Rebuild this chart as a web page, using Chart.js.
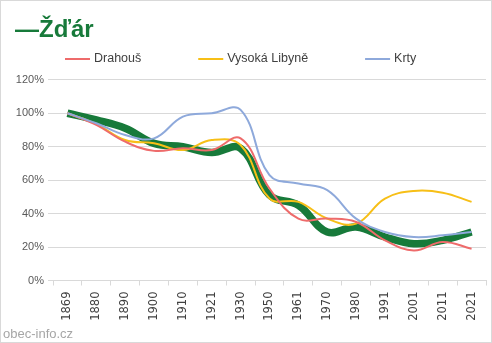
<!DOCTYPE html>
<html>
<head>
<meta charset="utf-8">
<script src="https://cdn.jsdelivr.net/npm/chart.js@4/dist/chart.umd.min.js"></script>
<style>
  html, body { margin: 0; padding: 0; background: #fff; }
  #box { width: 492px; height: 343px; position: relative; }
</style>
</head>
<body>
<div id="box"><canvas id="chart"></canvas></div>
<script>
// census years
var years = ["1869", "1880", "1890", "1900", "1910", "1921", "1930", "1950", "1961", "1970", "1980", "1991", "2001", "2011", "2021"];

// population relative to 1869, in percent
var zdar     = [100, 96, 91, 82, 80, 76.5, 79, 51, 45, 29, 32, 26, 22, 24, 29];
var drahous  = [100, 93, 83, 77.5, 79, 78, 85, 55, 37, 37, 35, 24, 18, 23, 19];
var vysoka   = [100, 93.5, 84, 82, 78, 84, 81, 49, 47, 37, 34, 49, 53.5, 52.5, 47];
var krty     = [100, 94, 87, 85, 98, 100, 102, 63, 58, 54, 37, 29, 26, 27, 29];

var yTicks = [0, 20, 40, 60, 80, 100, 120];

var GREEN = "#177a3a";

// own legend + watermark + frame
var extras = {
  id: "extras",
  afterDraw: function (chart) {
    var ctx = chart.ctx;
    ctx.save();

    // legend, skipping the main series (it is in the title)
    ctx.font = "12.5px 'Liberation Sans'";
    ctx.textBaseline = "middle";
    var x = 65, y = 59;
    chart.data.datasets.forEach(function (ds) {
      if (ds.label === "Žďár") return;
      ctx.fillStyle = ds.borderColor;
      ctx.fillRect(x, y - 1, 25, 2);
      ctx.fillStyle = "#404040";
      ctx.fillText(ds.label, x + 29, y);
      x += 29 + ctx.measureText(ds.label).width + 57;
    });

    // watermark
    ctx.font = "13px 'Liberation Sans'";
    ctx.fillStyle = "#a6a6a6";
    ctx.textBaseline = "alphabetic";
    ctx.fillText("obec-info.cz", 3, 338);

    // frame
    ctx.strokeStyle = "#d9d9d9";
    ctx.lineWidth = 1;
    ctx.strokeRect(0.5, 0.5, 491, 342);
    ctx.restore();
  }
};

function line(label, data, color, width, order) {
  return {
    label: label,
    data: data,
    borderColor: color,
    backgroundColor: color,
    borderWidth: width,
    pointRadius: 0,
    tension: 0.4,
    order: order
  };
}

var ctx = document.getElementById("chart").getContext("2d");
var myChart = new Chart(ctx, {
  type: "line",
  data: {
    labels: years,
    datasets: [
      line("Drahouš", drahous, "#ee6b6b", 2, 1),
      line("Vysoká Libyně", vysoka, "#f7bf17", 2, 2),
      line("Krty", krty, "#8ea9db", 2, 0),
      line("Žďár", zdar, GREEN, 7.5, 5)
    ]
  },
  options: {
    responsive: true,
    maintainAspectRatio: false,
    animation: false,
    layout: { padding: { left: 15, right: 6, top: 0, bottom: 0 } },
    plugins: {
      legend: { display: false },
      tooltip: { enabled: false },
      title: {
        display: true,
        text: "—Žďár",
        align: "start",
        color: GREEN,
        font: { family: "'Liberation Sans'", size: 24, weight: "bold" },
        padding: { top: 16, bottom: 35 }
      }
    },
    scales: {
      x: {
        offset: true,
        afterFit: function (scale) {
          scale.height = 62.5;
          scale.paddingLeft = 0;
          scale.paddingRight = 0;
        },
        grid: { drawOnChartArea: false, offset: true, tickLength: 5, color: "#d9d9d9" },
        border: { color: "#d9d9d9" },
        ticks: {
          minRotation: 90,
          maxRotation: 90,
          color: "#404040",
          padding: 6,
          font: { family: "'DejaVu Sans'", size: 11.5 }
        }
      },
      y: {
        min: 0,
        max: 120,
        afterFit: function (scale) { scale.width = 38; },
        afterBuildTicks: function (scale) {
          scale.ticks = yTicks.map(function (v) { return { value: v }; });
        },
        grid: { color: "#d9d9d9", tickLength: 5 },
        border: { display: false },
        ticks: {
          color: "#595959",
          padding: 4,
          font: { family: "'Liberation Sans'", size: 11 },
          callback: function (v) { return v + "%"; }
        }
      }
    }
  },
  plugins: [extras]
});
</script>
</body>
</html>
